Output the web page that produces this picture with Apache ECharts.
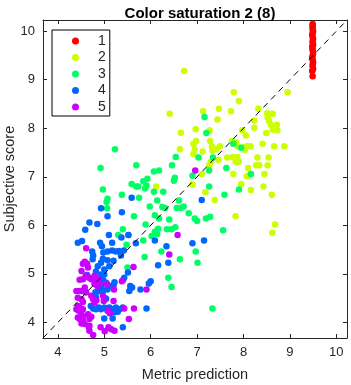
<!DOCTYPE html>
<html><head><meta charset="utf-8">
<script src="https://cdn.jsdelivr.net/npm/echarts@6/dist/echarts.min.js"></script>
<style>html,body{margin:0;padding:0;background:#fff}#c{width:351px;height:385px}</style>
</head><body><div id="c"></div>
<script>
const title = "Color saturation 2 (8)";
const xName = "Metric prediction";
const yName = "Subjective score";
const axisMin = 3.68, axisMax = 10.23;
const tickValues = [4, 5, 6, 7, 8, 9, 10];
const groupNames = ["1", "2", "3", "4", "5"];
const groupColors = ["#FF0000", "#CCFF00", "#00FF66", "#0066FF", "#CC00FF"];

const group1 = [[9.49,9.07],[9.48,9.18],[9.5,9.22],[9.49,9.27],[9.49,9.32],[9.5,9.36],[9.49,9.41],[9.48,9.45],[9.49,9.5],[9.5,9.55],[9.49,9.6],[9.49,9.64],[9.48,9.68],[9.5,9.72],[9.49,9.76],[9.49,9.8],[9.5,9.84],[9.49,9.88],[9.48,9.92],[9.49,9.96],[9.5,10.0],[9.49,10.04],[9.49,10.08],[9.49,10.12],[9.49,10.15]];

const group2 = [[6.72,9.18],[7.79,8.74],[7.90,8.56],[8.95,8.74],[6.41,8.30],[7.13,8.35],[7.47,8.40],[7.73,8.35],[8.32,8.40],[8.51,8.31],[8.63,8.30],[7.44,8.18],[8.23,8.16],[8.52,8.22],[8.55,8.15],[8.59,8.07],[8.72,8.07],[8.63,7.97],[8.73,7.96],[6.65,7.91],[6.97,7.98],[7.27,7.96],[7.97,7.96],[8.23,8.01],[8.05,7.85],[8.49,7.90],[6.92,7.68],[6.98,7.74],[6.95,7.57],[6.92,7.47],[6.63,7.57],[7.28,7.74],[7.32,7.63],[7.33,7.54],[7.41,7.57],[7.49,7.63],[7.12,7.52],[7.75,7.74],[7.84,7.71],[7.87,7.63],[8.00,7.61],[8.08,7.63],[8.15,7.63],[8.41,7.68],[8.66,7.63],[8.88,7.63],[7.65,7.40],[7.77,7.41],[7.87,7.41],[7.83,7.31],[7.90,7.31],[7.46,7.35],[8.30,7.40],[8.54,7.40],[8.34,7.24],[8.27,7.24],[8.10,7.18],[8.52,7.24],[7.26,7.24],[7.30,7.31],[7.10,7.06],[7.78,7.06],[8.07,7.01],[8.13,7.03],[8.45,7.06],[6.90,6.84],[7.95,6.85],[8.43,6.80],[8.16,6.73],[8.61,6.63],[7.38,6.52],[7.83,6.19],[8.68,6.02],[8.62,5.85],[6.12,6.80],[7.18,6.68],[8.03,7.56]];

const group3 = [[7.16,8.23],[7.20,7.90],[7.03,7.40],[7.34,7.40],[7.78,7.68],[7.95,7.60],[7.63,7.18],[8.16,7.06],[7.26,6.80],[7.59,6.63],[7.90,6.74],[7.56,5.90],[6.90,7.02],[7.26,7.13],[5.23,7.57],[4.92,7.18],[5.69,7.24],[4.97,6.74],[5.07,6.55],[5.05,6.48],[5.06,6.35],[5.38,6.63],[5.59,6.85],[5.69,6.80],[5.73,6.80],[5.84,6.91],[5.93,6.96],[5.88,6.76],[5.91,6.82],[5.75,6.57],[6.07,7.11],[6.18,7.13],[6.07,6.69],[6.27,6.69],[6.14,6.51],[5.98,6.39],[6.25,6.38],[6.31,6.36],[6.09,6.21],[6.18,6.14],[5.64,6.19],[5.40,5.92],[5.30,5.80],[6.16,5.93],[6.09,5.87],[6.14,5.82],[6.40,6.12],[6.35,5.92],[6.45,5.92],[6.53,5.96],[6.46,7.24],[6.54,7.41],[6.50,6.92],[6.52,6.98],[6.61,6.51],[6.56,6.36],[6.65,6.36],[6.71,6.39],[6.82,6.25],[6.95,6.14],[7.00,6.09],[7.19,6.14],[7.28,6.18],[5.89,6.02],[5.84,5.69],[5.48,5.60],[5.52,5.80],[5.87,5.35],[6.23,5.46],[6.02,5.78],[6.63,5.30],[6.97,5.46],[7.01,5.23],[6.38,4.92],[6.45,4.73],[5.50,5.13],[7.33,4.29]];

const group4 = [[7.10,6.52],[6.09,5.69],[6.34,5.57],[6.90,5.63],[7.15,5.69],[5.59,6.57],[4.93,6.35],[5.07,6.19],[5.38,6.27],[4.68,6.06],[4.85,6.03],[4.59,5.91],[5.10,5.80],[5.52,5.80],[5.37,5.75],[4.43,5.64],[4.52,5.68],[4.91,5.64],[4.95,5.57],[5.17,5.64],[5.68,5.63],[4.74,5.46],[4.76,5.38],[4.75,5.30],[4.98,5.44],[5.07,5.46],[5.17,5.48],[5.25,5.46],[5.31,5.47],[5.42,5.48],[5.36,5.38],[4.97,5.31],[5.07,5.28],[4.93,5.23],[4.86,5.16],[5.20,5.27],[5.11,5.16],[5.00,5.09],[4.82,5.05],[4.93,4.99],[5.00,4.99],[4.89,4.89],[4.98,4.87],[4.95,4.79],[5.04,4.82],[5.11,4.75],[5.07,4.68],[5.22,4.83],[4.86,4.75],[4.89,4.65],[4.97,4.65],[5.51,5.03],[5.43,4.92],[5.40,4.87],[5.56,4.75],[5.54,4.65],[5.60,4.72],[5.78,4.68],[4.82,4.51],[4.88,4.31],[4.82,4.27],[4.93,4.27],[5.00,4.31],[5.11,4.31],[5.18,4.27],[5.25,4.31],[5.33,4.27],[5.40,4.31],[5.22,4.21],[5.07,4.24],[5.00,4.08],[5.18,4.08],[5.40,3.90],[5.04,4.49],[6.16,5.18],[6.38,5.23],[6.00,4.85],[5.96,4.80],[5.91,4.29],[4.63,4.98],[5.20,4.77],[4.71,4.34],[4.76,4.29],[4.81,4.62],[4.81,4.55],[4.94,4.72],[5.02,4.50],[4.60,4.62],[5.29,4.22]];

const group5 = [[6.96,7.13],[6.40,5.40],[6.58,5.80],[5.91,4.68],[5.63,5.14],[5.64,4.29],[5.53,4.07],[5.43,4.29],[5.38,4.85],[4.61,5.53],[4.58,5.25],[4.54,5.21],[4.63,5.21],[4.65,5.13],[4.51,5.06],[4.60,4.96],[4.67,4.92],[4.72,4.89],[4.47,4.88],[4.54,4.89],[4.40,4.65],[4.47,4.65],[4.52,4.65],[4.58,4.72],[4.61,4.62],[4.79,4.96],[4.86,4.90],[4.83,4.85],[4.90,4.81],[4.79,4.79],[4.85,4.75],[4.72,4.55],[4.76,4.48],[4.83,4.46],[4.79,4.41],[4.43,4.51],[4.51,4.48],[4.54,4.42],[4.43,4.34],[4.47,4.31],[4.54,4.27],[4.40,4.27],[4.45,4.24],[4.51,4.17],[4.54,4.12],[4.43,4.10],[4.47,4.07],[4.54,4.03],[4.51,3.98],[4.58,3.97],[4.65,4.17],[4.72,4.12],[4.68,4.07],[4.67,3.90],[4.68,3.83],[4.76,3.74],[4.92,3.90],[5.01,3.82],[5.15,3.86],[5.08,4.24],[5.12,4.19],[4.97,4.55],[4.99,4.44],[5.06,4.79],[5.21,4.68],[5.20,4.44],[5.09,3.90],[5.22,3.83],[4.68,3.93]];

const groups = [group1, group2, group3, group4, group5];
const diagonal = [[axisMin, axisMin], [axisMax, axisMax]];

const FONT = "Liberation Sans, Arial, Helvetica, sans-serif";
const TXT = "#262626";

function axisCommon(showLabels) {
  return {
    type: 'value', min: axisMin, max: axisMax,
    splitLine: { show: false },
    axisLine: { show: true, onZero: false, lineStyle: { color: TXT, width: 1 } },
    axisTick: { show: true, inside: true, length: 4, customValues: tickValues, lineStyle: { color: TXT } },
    axisLabel: { show: showLabels, customValues: tickValues, color: TXT, fontSize: 13, fontFamily: FONT, margin: 8 }
  };
}

const chart = echarts.init(document.getElementById('c'), null, { renderer: 'canvas' });
const series = groups.map((g, i) => ({
  name: groupNames[i], type: 'scatter', data: g, symbol: 'circle', symbolSize: 6.5,
  itemStyle: { color: groupColors[i], opacity: 1 }, z: 3 + i, animation: false
}));
series.push({
  type: 'line', data: diagonal, symbol: 'none', silent: true, z: 10, animation: false,
  lineStyle: { color: '#000', width: 1, type: [6, 5] }
});

chart.setOption({
  animation: false,
  title: { text: title, left: 195, top: 1, textAlign: 'center',
    textStyle: { fontSize: 15, fontWeight: 'bold', color: '#000', fontFamily: FONT } },
  grid: { left: 43, right: 4, top: 20, bottom: 47, containLabel: false, outerBoundsMode: 'none' },
  xAxis: [
    Object.assign(axisCommon(true), { position: 'bottom', name: xName, nameLocation: 'middle', nameGap: 29,
      nameMoveOverlap: false,
      nameTextStyle: { fontSize: 14.5, color: TXT, fontFamily: FONT } }),
    Object.assign(axisCommon(false), { position: 'top' })
  ],
  yAxis: [
    Object.assign(axisCommon(true), { position: 'left', name: yName, nameLocation: 'middle', nameGap: 26,
      nameMoveOverlap: false,
      nameTextStyle: { fontSize: 14.5, color: TXT, fontFamily: FONT } }),
    Object.assign(axisCommon(false), { position: 'right' })
  ],
  legend: {
    data: groupNames, left: 52, top: 30, orient: 'vertical',
    backgroundColor: '#fff', borderColor: '#000', borderWidth: 1,
    padding: [3, 4, 1, 20], itemGap: 0.5, itemWidth: 7, itemHeight: 7,
    icon: 'circle',
    textStyle: { fontSize: 14, color: TXT, fontFamily: FONT, lineHeight: 16, padding: [0, 0, 0, 14] }
  },
  series: series
});
</script>
</body></html>
